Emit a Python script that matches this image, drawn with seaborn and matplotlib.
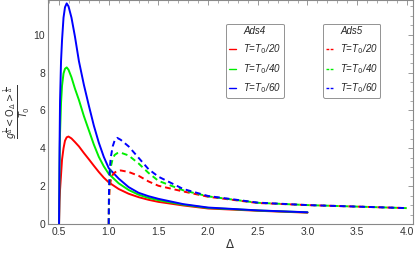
import numpy as np
import pandas as pd
import matplotlib
matplotlib.use('Agg')
import matplotlib.pyplot as plt
from matplotlib.lines import Line2D
import seaborn as sns

# Ads4 curves (solid)
d4 = [0.5, 0.505, 0.51, 0.52, 0.53, 0.545, 0.56, 0.577, 0.595, 0.625, 0.66, 0.7, 0.75,
      0.8, 0.85, 0.9, 0.95, 1.0, 1.1, 1.2, 1.3, 1.4, 1.5, 1.75, 2.0, 2.5, 3.0]
ads4_t20 = [0, 1.2, 1.8, 2.6, 3.4, 4.0, 4.4, 4.58, 4.62, 4.52, 4.33, 4.1, 3.75,
            3.42, 3.08, 2.75, 2.45, 2.2, 1.85, 1.6, 1.42, 1.28, 1.17, 0.98, 0.82, 0.70, 0.60]
ads4_t40 = [0, 3.0, 4.8, 6.4, 7.3, 7.95, 8.2, 8.27, 8.15, 7.75, 7.15, 6.55, 5.7,
            4.95, 4.2, 3.55, 3.05, 2.65, 2.15, 1.8, 1.55, 1.38, 1.26, 1.02, 0.85, 0.715, 0.615]
ads4_t60 = [0, 4.0, 6.5, 8.6, 9.7, 10.9, 11.45, 11.65, 11.5, 10.9, 9.9, 8.6, 7.35,
            6.25, 5.2, 4.3, 3.55, 2.95, 2.4, 1.95, 1.65, 1.47, 1.33, 1.05, 0.87, 0.72, 0.62]

# Ads5 curves (dashed)
d5 = [1.0, 1.002, 1.008, 1.02, 1.04, 1.06, 1.085, 1.12, 1.2, 1.3, 1.4, 1.5,
      1.75, 2.0, 2.5, 3.0, 3.5, 4.0]
ads5_t20 = [0, 1.0, 1.8, 2.3, 2.6, 2.72, 2.8, 2.83, 2.75, 2.55, 2.25, 2.02,
            1.72, 1.44, 1.11, 1.0, 0.92, 0.84]
ads5_t40 = [0, 1.3, 2.3, 3.0, 3.45, 3.65, 3.74, 3.77, 3.62, 3.2, 2.7, 2.28,
            1.78, 1.46, 1.12, 1.0, 0.92, 0.84]
ads5_t60 = [0, 1.5, 2.7, 3.5, 4.1, 4.42, 4.55, 4.45, 4.1, 3.5, 2.9, 2.5,
            1.85, 1.48, 1.13, 1.0, 0.92, 0.84]

labels = ['T=T$_0$/20', 'T=T$_0$/40', 'T=T$_0$/60']
colors = ['#ff0000', '#00ee00', '#0000ff']

sns.set_style('white')
plt.rcParams['font.family'] = ['Liberation Sans', 'DejaVu Sans']
plt.rcParams['mathtext.fontset'] = 'dejavusans'

fig = plt.figure(figsize=(4.15, 2.54), dpi=100)
ax = fig.add_axes([0.1157, 0.118, 0.879, 0.882])

for ys, c in zip([ads4_t20, ads4_t40, ads4_t60], colors):
    sns.lineplot(x=d4, y=ys, color=c, lw=1.4, sort=False, estimator=None, ax=ax)
for ys, c in zip([ads5_t20, ads5_t40, ads5_t60], colors):
    sns.lineplot(x=d5, y=ys, color=c, lw=1.4, sort=False, estimator=None, ax=ax,
                 linestyle=(0, (3, 2)))

ax.set_xlim(0.389, 4.06)
ax.set_ylim(0, 11.83)
ax.set_xticks(np.arange(0.5, 4.01, 0.5))
ax.set_xticklabels([f'{v:.1f}' for v in np.arange(0.5, 4.01, 0.5)])
ax.set_xticks(np.arange(0.4, 4.06, 0.1), minor=True)
ax.set_yticks([0, 2, 4, 6, 8, 10])
ax.set_yticks(np.arange(0, 11.8, 0.5), minor=True)
ax.tick_params(which='both', direction='in', top=True, right=True, colors='#888888',
               labelcolor='#333333', labelsize=7.5, pad=2)
ax.tick_params(which='major', length=3.5, width=0.6)
ax.tick_params(which='minor', length=2, width=0.5)
for s in ax.spines.values():
    s.set_color('#888888')
    s.set_linewidth(0.8)

ax.set_xlabel(r'$\Delta$', fontsize=8.5, color='#333333', labelpad=1)
# y label placed by hand so it sits in the left margin
fig.text(17 / 415, 1 - 112 / 254,
         r'$\frac{g^{\frac{1}{\Delta}}<\mathrm{O}_{\Delta}>^{\frac{1}{\Delta}}}{T_0}$',
         fontsize=10, color='#333333', rotation=90, ha='center', va='center')

def make_legend(title, ls, x0):
    hs = [Line2D([], [], color=c, lw=1.0, linestyle=ls) for c in colors]
    lg = ax.legend(hs, labels, title=title, loc='upper left', bbox_to_anchor=(x0, 0.895),
                   borderaxespad=0, handlelength=0.75, handletextpad=0.7,
                   labelspacing=0.6, borderpad=0.3, frameon=True, fancybox=True,
                   shadow=False, edgecolor='#777777', prop={'style': 'italic', 'size': 7})
    lg.get_title().set_fontstyle('italic')
    lg.get_title().set_fontsize(7)
    lg.get_frame().set_linewidth(0.7)
    return lg

lg1 = make_legend('Ads4', '-', 0.488)
ax.add_artist(lg1)
lg2 = make_legend('Ads5', (0, (2, 1)), 0.753)

fig.savefig('out.png', dpi=100)
